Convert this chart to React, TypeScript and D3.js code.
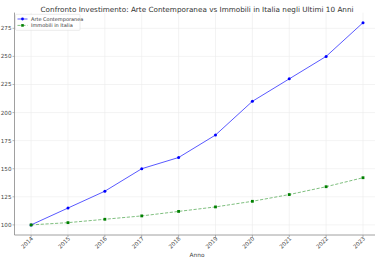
import React from "react";
import * as d3 from "d3";

const years = [2014, 2015, 2016, 2017, 2018, 2019, 2020, 2021, 2022, 2023];
const arte = [100, 115, 130, 150, 160, 180, 210, 230, 250, 280];
const immobili = [100, 102, 105, 108, 112, 116, 121, 127, 134, 142];
const yTicks = [100, 125, 150, 175, 200, 225, 250, 275];
const title = "Confronto Investimento: Arte Contemporanea vs Immobili in Italia negli Ultimi 10 Anni";
const seriesNames = ["Arte Contemporanea", "Immobili in Italia"];

export default function App() {
  const W = 375, H = 263;
  const left = 14.5, bottom = 235, top = 12.6, right = 379.6;
  const x = d3.scaleLinear().domain([2014 - 0.45, 2023 + 0.45]).range([left, right]);
  const y = d3.scaleLinear().domain([91, 289]).range([bottom, top]);
  const line = d3.line<number>().x((_, i) => x(years[i])).y((d) => y(d));
  const font = "DejaVu Sans, sans-serif";
  return (
    <svg width={W} height={H} style={{ position: "absolute", left: 0, top: 0, background: "#fff" }} fontFamily={font}>
      <defs>
        <clipPath id="plot">
          <rect x={left} y={top} width={right - left} height={bottom - top} />
        </clipPath>
      </defs>
      <text x={(left + right) / 2} y={11.5} textAnchor="middle" fontSize={7.2} fill="#333" textLength={313} lengthAdjust="spacingAndGlyphs">{title}</text>
      {/* grid */}
      <g clipPath="url(#plot)">
        {years.map((yr) => (
          <line key={yr} x1={x(yr)} x2={x(yr)} y1={top} y2={bottom} stroke="#ebebeb" strokeWidth={0.6} />
        ))}
        {yTicks.map((t) => (
          <line key={t} x1={left} x2={right} y1={y(t)} y2={y(t)} stroke="#ebebeb" strokeWidth={0.6} />
        ))}
      </g>
      {/* spines */}
      <line x1={left} x2={left} y1={top} y2={bottom} stroke="#888" strokeWidth={0.8} />
      <line x1={left} x2={W} y1={bottom} y2={bottom} stroke="#888" strokeWidth={0.8} />
      {/* y ticks */}
      {yTicks.map((t) => (
        <g key={t}>
          <line x1={left - 2} x2={left} y1={y(t)} y2={y(t)} stroke="#888" strokeWidth={0.6} />
          <text x={left - 3} y={y(t) + 2} textAnchor="end" fontSize={5.6} fill="#444">{t}</text>
        </g>
      ))}
      {/* x ticks */}
      {years.map((yr) => (
        <g key={yr}>
          <line x1={x(yr)} x2={x(yr)} y1={bottom} y2={bottom + 2} stroke="#888" strokeWidth={0.6} />
          <text transform={`translate(${x(yr) + 2.5},${bottom + 4}) rotate(-45)`} textAnchor="end" fontSize={5.6} fill="#444">{yr}</text>
        </g>
      ))}
      <text x={(left + right) / 2} y={256.5} textAnchor="middle" fontSize={5.8} fill="#444">Anno</text>
      {/* series */}
      <g clipPath="url(#plot)">
        <path d={line(arte) || ""} fill="none" stroke="#0000ff" strokeOpacity={0.65} strokeWidth={1} />
        {arte.map((v, i) => (
          <circle key={i} cx={x(years[i])} cy={y(v)} r={1.5} fill="#0000ff" />
        ))}
        <path d={line(immobili) || ""} fill="none" stroke="#008000" strokeOpacity={0.5} strokeWidth={1} strokeDasharray="3.2,1.6" />
        {immobili.map((v, i) => (
          <rect key={i} x={x(years[i]) - 1.4} y={y(v) - 1.4} width={2.8} height={2.8} fill="#008000" />
        ))}
      </g>
      {/* legend */}
      <g>
        <rect x={15.5} y={14.3} width={64.5} height={16} fill="#fff" fillOpacity={0.8} stroke="#ddd" strokeWidth={0.6} rx={1} />
        <line x1={17.5} x2={27.5} y1={19} y2={19} stroke="#0000ff" strokeOpacity={0.65} strokeWidth={1} />
        <circle cx={22.5} cy={19} r={1.4} fill="#0000ff" />
        <text x={31} y={20.8} fontSize={5} fill="#333">{seriesNames[0]}</text>
        <line x1={17.5} x2={27.5} y1={25.4} y2={25.4} stroke="#008000" strokeOpacity={0.5} strokeWidth={1} strokeDasharray="3.2,1.6" />
        <rect x={21.2} y={24.1} width={2.6} height={2.6} fill="#008000" />
        <text x={31} y={27.2} fontSize={5} fill="#333">{seriesNames[1]}</text>
      </g>
    </svg>
  );
}
